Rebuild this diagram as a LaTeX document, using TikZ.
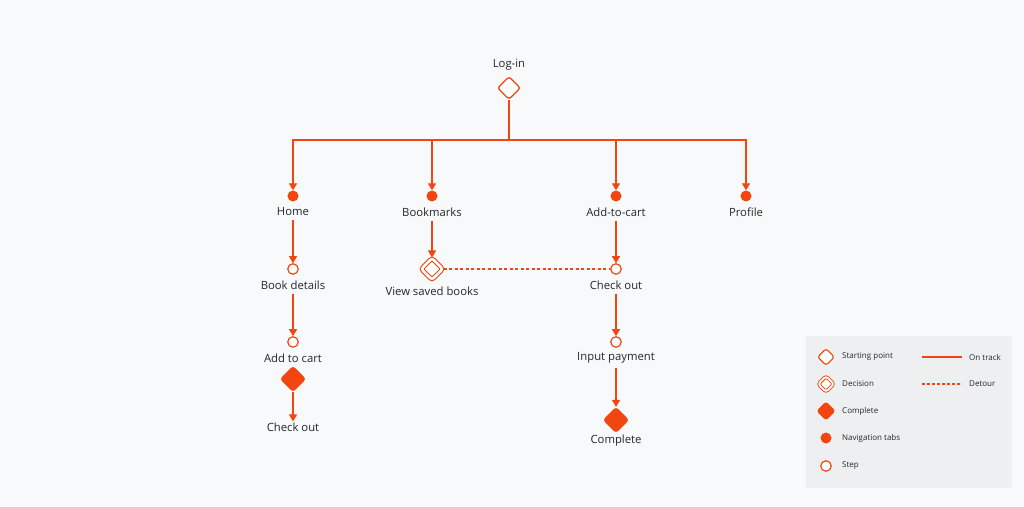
\documentclass[tikz,border=0pt]{standalone}
\usepackage{fontspec}
\setmainfont{Open Sans}
\usetikzlibrary{arrows.meta,shapes.geometric}
\definecolor{flow}{HTML}{F2450F}
\definecolor{bgc}{HTML}{F8F9FA}
\definecolor{legc}{HTML}{EEEFF1}
\tikzset{%
    lin/.style={flow, line width = 1.3pt},
    lina/.style={flow, line width = 1.3pt, -{Triangle[length=7pt,width=8pt]}},
    dsh/.style={flow, line width = 1.3pt, dash pattern=on 3pt off 2.5pt},
    lbl/.style={inner sep=1pt, font=\fontsize{11.3}{13}\selectfont, text=black!85},
    leg/.style={inner sep=0pt, anchor=west, font=\fontsize{8}{9}\selectfont, text=black!85},
    start/.style={draw=flow, line width=1.3pt, fill=white, diamond, aspect=1, rounded corners=2.5pt, minimum size=23pt, inner sep=0pt},
    deci/.style={start, double=white, double distance=2.6pt, line width=1.1pt, minimum size=22pt},
    comp/.style={start, fill=flow, minimum size=25pt},
    nav/.style={circle, fill=flow, minimum size=11pt, inner sep=0pt},
    stp/.style={circle, draw=flow, line width=1.2pt, fill=white, minimum size=10.5pt, inner sep=0pt},
}
\begin{document}
\begin{tikzpicture}[x=1pt,y=-1pt]
    \fill[bgc] (0,0) rectangle (1024,506);
    \useasboundingbox (0,0) rectangle (1024,506);
    % top
    \node[lbl] (tLog) at (509,65) {Log-in};
    \node[start] (login) at (509,88) {};
    \coordinate (bus) at (509,140);
    \draw[lin] (login.south) -- (bus);
    \node[nav] (home) at (293,196) {};
    \node[nav] (book) at (432,196) {};
    \node[nav] (cart) at (616,196) {};
    \node[nav] (prof) at (746,196) {};
    \draw[lina] (bus) -| (home.north);
    \draw[lina] (bus) -| (book.north);
    \draw[lina] (bus) -| (cart.north);
    \draw[lina] (bus) -| (prof.north);
    \node[lbl] (tHome) at (293,212) {Home};
    \node[lbl] (tBook) at (432,212) {Bookmarks};
    \node[lbl] (tCart) at (616,212) {Add-to-cart};
    \node[lbl] (tProf) at (746,212) {Profile};
    % home column
    \node[stp] (det) at (293,269) {};
    \node[lbl] (tDet) at (293,285) {Book details};
    \node[stp] (add) at (293,342) {};
    \node[lbl] (tAdd) at (293,358) {Add to cart};
    \node[comp] (done1) at (293,379) {};
    \node[lbl] (tOut1) at (293,427) {Check out};
    \draw[lina] (tHome.south) ++(0,3) -- (det.north);
    \draw[lina] (tDet.south) ++(0,3) -- (add.north);
    \draw[lina] (done1.south) -- (tOut1.north);
    % bookmarks / cart columns
    \node[deci] (view) at (432,269) {};
    \node[lbl] (tView) at (432,291) {View saved books};
    \draw[lina] (tBook.south) ++(0,3) -- (view.north);
    \node[stp] (out) at (616,269) {};
    \node[lbl] (tOut) at (616,285) {Check out};
    \draw[lina] (tCart.south) ++(0,3) -- (out.north);
    \draw[dsh] (view.east) -- (out.west);
    \node[stp] (pay) at (616,342) {};
    \node[lbl] (tPay) at (616,358) {Input payment};
    \draw[lina] (tOut.south) ++(0,3) -- (pay.north);
    \node[comp] (done2) at (616,420) {};
    \node[lbl] (tDone) at (616,441) {Complete};
    \draw[lina] (tPay.south) ++(0,3) -- (done2.north);
    % legend
    \fill[legc] (806,336) rectangle (1012,488);
    \node[start, minimum size=17pt, line width=1.1pt] (lg1) at (826,357) {};
    \node[deci, minimum size=16pt, double distance=1.8pt, line width=0.9pt] (lg2) at (826,384) {};
    \node[comp, minimum size=18pt] (lg3) at (826,411) {};
    \node[nav, minimum size=11pt] (lg4) at (826,438) {};
    \node[stp, minimum size=10.5pt] (lg5) at (826,466) {};
    \node[leg] at (842,357) {Starting point};
    \node[leg] at (842,384) {Decision};
    \node[leg] at (842,411) {Complete};
    \node[leg] at (842,438) {Navigation tabs};
    \node[leg] at (842,466) {Step};
    \coordinate (l1a) at (922,357); \coordinate (l1b) at (962,357);
    \coordinate (l2a) at (922,384); \coordinate (l2b) at (962,384);
    \draw[lin] (l1a) -- (l1b);
    \draw[dsh, dash pattern=on 2.5pt off 2.5pt] (l2a) -- (l2b);
    \node[leg] at (969,357) {On track};
    \node[leg] at (969,384) {Detour};
\end{tikzpicture}
\end{document}
